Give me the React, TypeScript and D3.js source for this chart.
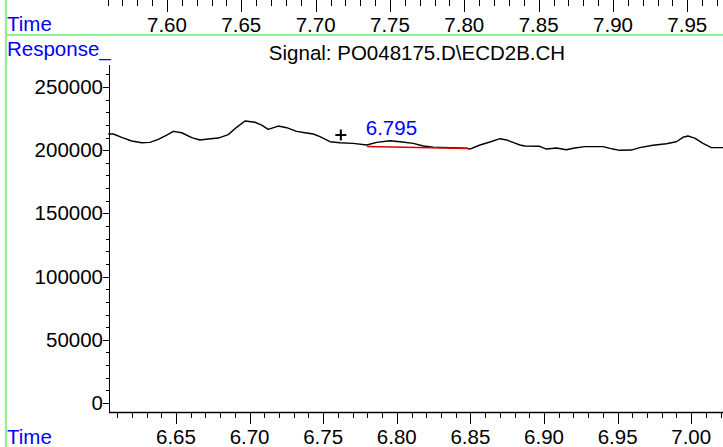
import React from "react";
import * as d3 from "d3";

const W = 723;
const H = 447;

// Trace (retention time, response)
const times = [
  6.604, 6.6074, 6.6131, 6.6199, 6.6267, 6.6323, 6.638, 6.6437, 6.6482, 6.6539,
  6.6607, 6.6663, 6.6719, 6.6787, 6.6855, 6.6912, 6.6969, 6.7037, 6.7082, 6.7127,
  6.7195, 6.7252, 6.732, 6.7376, 6.7433, 6.7478, 6.7546, 6.7614, 6.7704, 6.7796,
  6.7863, 6.7954, 6.8022, 6.8112, 6.818, 6.8248, 6.8361, 6.8475, 6.8497, 6.8565,
  6.8633, 6.8701, 6.8747, 6.8789, 6.8837, 6.8869, 6.8971, 6.9016, 6.9084, 6.9151,
  6.9209, 6.9277, 6.9401, 6.9469, 6.9514, 6.9593, 6.965, 6.974, 6.9831, 6.9899,
  6.9944, 6.9978, 7.0024, 7.008, 7.0137, 7.0216,
];
const responses = [
  212800, 212800, 210200, 207300, 205900, 206200, 208600, 212000, 214900, 213800,
  209900, 208100, 208900, 209600, 212300, 218100, 223100, 222100, 219900, 216500,
  219100, 217800, 214900, 213800, 212800, 210700, 206700, 205900, 205400, 204100,
  206200, 207500, 206700, 205400, 203300, 202300, 202000, 201500, 200900, 204100,
  206500, 209100, 208100, 206200, 204100, 203300, 203100, 200900, 201700, 200400,
  201700, 202800, 202800, 200900, 199900, 200100, 202000, 203900, 205100, 206700,
  210200, 211200, 209600, 205400, 202000, 202000,
];

// Integration baseline of the peak
const baselineTimes = [6.7798, 6.8484];
const baselineValues = [202900, 201300];

const peakLabel = "6.795";
const peakTime = 6.795;
const peakLabelValue = 212000;

const markerTime = 6.762;
const markerValue = 212000;

const bottomMajorTicks = [6.65, 6.7, 6.75, 6.8, 6.85, 6.9, 6.95, 7.0];
const topMajorTicks = [7.6, 7.65, 7.7, 7.75, 7.8, 7.85, 7.9, 7.95];
const yMajorTicks = [0, 50000, 100000, 150000, 200000, 250000];

const title = "Signal: PO048175.D\\ECD2B.CH";

const FONT = "'Liberation Sans', Arial, sans-serif";
const FS = 20.5;
const BLUE = "#0000ff";
const GREEN = "#90ee90";

export default function App() {
  const x = d3.scaleLinear().domain([6.6045, 7.0216]).range([109, 723]);
  const xTop = d3.scaleLinear().domain([7.561, 7.974]).range([109, 723]);
  const y = d3.scaleLinear().domain([-7120, 267400]).range([412, 65]);

  const pts = times.map((t, i) => [t, responses[i]] as [number, number]);
  const line = d3
    .line<[number, number]>()
    .x((d) => x(d[0]))
    .y((d) => y(d[1]));

  const bottomMinor = d3.range(661, 703).map((v) => v / 100);
  const topMinor = d3.range(756, 798).map((v) => v / 100);
  const yMinor = d3.range(0, 27).map((v) => v * 10000);

  const isMajor = (v: number, arr: number[]) =>
    arr.some((m) => Math.abs(m - v) < 1e-6);

  const mx = x(markerTime);
  const my = y(markerValue);

  return (
    <svg
      width={W}
      height={H}
      style={{ position: "absolute", left: 0, top: 0, background: "#fff" }}
      fontFamily={FONT}
    >
      <rect x={0} y={0} width={W} height={H} fill="#fff" />
      {/* green frame lines */}
      <line x1={6} y1={0} x2={6} y2={H} stroke={GREEN} strokeWidth={2} />
      <line x1={6} y1={35} x2={W} y2={35} stroke={GREEN} strokeWidth={2} />

      {/* top axis (previous panel) */}
      {topMinor.map((v) => (
        <line
          key={"tm" + v}
          x1={Math.round(xTop(v)) + 0.5}
          x2={Math.round(xTop(v)) + 0.5}
          y1={0}
          y2={isMajor(v, topMajorTicks) ? 12 : 6}
          stroke="#000"
          strokeWidth={1}
        />
      ))}
      {topMajorTicks.map((v) => (
        <text
          key={"tl" + v}
          x={xTop(v)}
          y={32}
          fontSize={FS}
          textAnchor="middle"
          fill="#000"
        >
          {v.toFixed(2)}
        </text>
      ))}
      <text x={7} y={31} fontSize={FS} fill={BLUE}>
        Time
      </text>

      {/* panel header */}
      <text x={7} y={56} fontSize={FS} fill={BLUE}>
        Response_
      </text>
      <text x={417} y={60} fontSize={FS} textAnchor="middle" fill="#000">
        {title}
      </text>

      {/* y axis */}
      <line x1={109.5} y1={65} x2={109.5} y2={412} stroke="#000" strokeWidth={1} />
      {yMinor.map((v) => (
        <line
          key={"ym" + v}
          x1={isMajor(v, yMajorTicks) ? 103 : 106}
          x2={109.5}
          y1={Math.round(y(v)) + 0.5}
          y2={Math.round(y(v)) + 0.5}
          stroke="#000"
          strokeWidth={1}
        />
      ))}
      {yMajorTicks.map((v) => (
        <text
          key={"yl" + v}
          x={103}
          y={y(v) + 7}
          fontSize={FS}
          textAnchor="end"
          fill="#000"
        >
          {v}
        </text>
      ))}

      {/* bottom axis */}
      <line x1={109} y1={412.5} x2={W} y2={412.5} stroke="#000" strokeWidth={1.5} />
      {bottomMinor.map((v) => (
        <line
          key={"bm" + v}
          x1={Math.round(x(v)) + 0.5}
          x2={Math.round(x(v)) + 0.5}
          y1={412}
          y2={isMajor(v, bottomMajorTicks) ? 424 : 418}
          stroke="#000"
          strokeWidth={1}
        />
      ))}
      {bottomMajorTicks.map((v) => (
        <text
          key={"bl" + v}
          x={x(v)}
          y={444}
          fontSize={FS}
          textAnchor="middle"
          fill="#000"
        >
          {v.toFixed(2)}
        </text>
      ))}
      <text x={7} y={444} fontSize={FS} fill={BLUE}>
        Time
      </text>

      {/* signal trace */}
      <path d={line(pts) || ""} fill="none" stroke="#000" strokeWidth={1.4} strokeLinejoin="round" />

      {/* integration baseline */}
      <line
        x1={x(baselineTimes[0])}
        y1={y(baselineValues[0])}
        x2={x(baselineTimes[1])}
        y2={y(baselineValues[1])}
        stroke="#e00000"
        strokeWidth={1.5}
      />

      {/* marker */}
      <path
        d={`M${mx - 5.5},${my}H${mx + 5.5}M${mx},${my - 5.5}V${my + 5.5}`}
        stroke="#000"
        strokeWidth={2}
        fill="none"
      />

      {/* peak label */}
      <text
        x={x(peakTime) + 2}
        y={y(peakLabelValue)}
        fontSize={FS}
        textAnchor="middle"
        fill={BLUE}
      >
        {peakLabel}
      </text>
    </svg>
  );
}
